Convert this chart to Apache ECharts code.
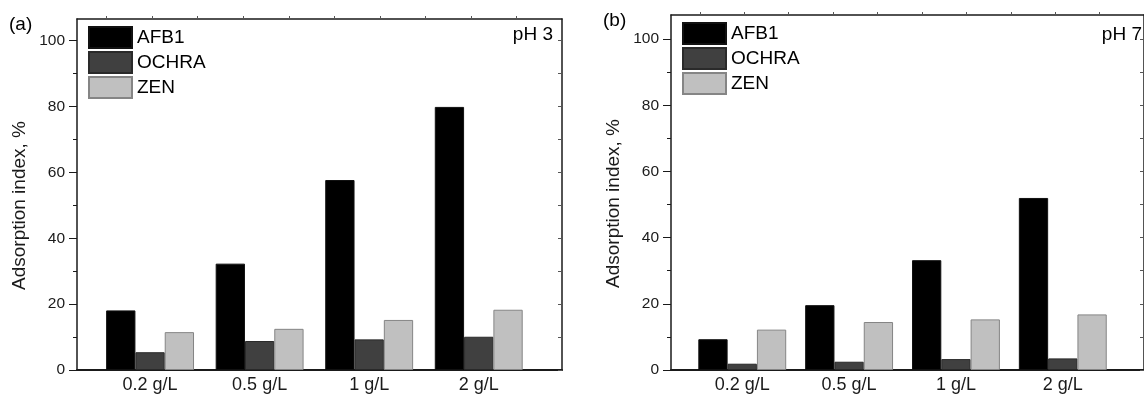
<!DOCTYPE html>
<html>
<head>
<meta charset="utf-8">
<script src="https://cdn.jsdelivr.net/npm/echarts@6/dist/echarts.min.js"></script>
<style>
  html, body { margin: 0; padding: 0; background: #fff; }
  #chart { width: 1144px; height: 394px; }
</style>
</head>
<body>
<div id="chart"></div>
<script>
// data
const categories = ['0.2 g/L', '0.5 g/L', '1 g/L', '2 g/L']
const seriesNames = ['AFB1', 'OCHRA', 'ZEN']
const afb1Ph3 = [18.1, 32.3, 57.7, 79.9]
const ochraPh3 = [5.4, 8.8, 9.3, 10.1]
const zenPh3 = [11.5, 12.5, 15.2, 18.3]
const afb1Ph7 = [9.3, 19.6, 33.2, 52.0]
const ochraPh7 = [1.9, 2.5, 3.3, 3.5]
const zenPh7 = [12.2, 14.5, 15.3, 16.8]
const yMajorTicks = [0, 20, 40, 60, 80, 100]
const yMinorTicks = [10, 30, 50, 70, 90]
const yAllTicks = [0, 10, 20, 30, 40, 50, 60, 70, 80, 90, 100]
const topTicks = [1, 2, 3, 4, 5, 6, 7, 8, 9, 10]

const FONT = '"Liberation Sans", Arial, sans-serif'
const INK = '#1a1a1a'
const colors = ['#000000', '#404040', '#c0c0c0']
const borders = ['#111111', '#2a2a2a', '#858585']

const xPos = categories.map((c, i) => i + 1)

let chart = echarts.init(document.getElementById('chart'), null, { renderer: 'canvas' })

function panelAxes(gridIndex, yMax) {
  let xAxes = [
    {
      gridIndex: gridIndex,
      type: 'value',
      position: 'bottom',
      min: 0.333,
      max: 4.76,
      axisLine: { show: true, onZero: false, lineStyle: { color: INK, width: 2 } },
      axisTick: { show: false },
      splitLine: { show: false },
      axisLabel: {
        customValues: xPos,
        margin: 6,
        color: INK,
        fontSize: 18,
        fontFamily: FONT,
        formatter: (v) => categories[Math.round(v) - 1] || ''
      }
    },
    {
      gridIndex: gridIndex,
      type: 'value',
      position: 'top',
      min: 0.35,
      max: 11,
      axisLine: { show: true, onZero: false, lineStyle: { color: INK, width: 1.5 } },
      axisTick: { show: true, customValues: topTicks, length: 3, lineStyle: { color: '#555' } },
      axisLabel: { show: false },
      splitLine: { show: false }
    }
  ]
  let yAxes = [
    {
      gridIndex: gridIndex,
      type: 'value',
      position: 'left',
      min: 0,
      max: yMax,
      name: 'Adsorption index, %',
      nameLocation: 'middle',
      nameGap: 48,
      nameTextStyle: { color: INK, fontSize: 19, fontFamily: FONT, padding: [0, 22, 0, 0] },
      axisLine: { show: true, onZero: false, lineStyle: { color: INK, width: 1.5 } },
      axisTick: { show: true, customValues: yMajorTicks, length: 8, lineStyle: { color: INK } },
      axisLabel: { customValues: yMajorTicks, margin: 12, color: INK, fontSize: 15.5, fontFamily: FONT },
      splitLine: { show: false }
    },
    {
      gridIndex: gridIndex,
      type: 'value',
      position: 'left',
      min: 0,
      max: yMax,
      axisLine: { show: false, onZero: false },
      axisTick: { show: true, customValues: yMinorTicks, length: 4, lineStyle: { color: INK } },
      axisLabel: { show: false },
      splitLine: { show: false }
    },
    {
      gridIndex: gridIndex,
      type: 'value',
      position: 'right',
      min: 0,
      max: yMax,
      axisLine: { show: true, onZero: false, lineStyle: { color: INK, width: 1.5 } },
      axisTick: { show: true, inside: true, customValues: yAllTicks, length: 4, lineStyle: { color: '#555' } },
      axisLabel: { show: false },
      splitLine: { show: false }
    }
  ]
  return { xAxes, yAxes }
}

function barSeries(gridIndex, values) {
  return values.map((vals, k) => ({
    name: seriesNames[k],
    type: 'bar',
    xAxisIndex: gridIndex * 2,
    yAxisIndex: gridIndex * 3,
    barWidth: 29.3,
    barGap: '0%',
    data: vals.map((v, i) => [xPos[i], v]),
    itemStyle: { color: colors[k], borderColor: borders[k], borderWidth: 1 },
    emphasis: { disabled: true },
    animation: false
  }))
}

let pa = panelAxes(0, 106.6)
let pb = panelAxes(1, 107.3)

let legendBase = {
  orient: 'vertical',
  icon: 'rect',
  padding: 0,
  itemWidth: 43,
  itemHeight: 21,
  itemGap: 2,
  selectedMode: false,
  data: seriesNames,
  textStyle: { color: '#000', fontSize: 19, fontFamily: FONT, padding: [0, 0, 0, 0] }
}

let labelStyle = { fontSize: 19, fontWeight: 'normal', color: '#000', fontFamily: FONT }

let option = {
  animation: false,
  textStyle: { fontFamily: FONT },
  grid: [
    { left: 77, top: 19, width: 485, height: 352 },
    { left: 671, top: 15, width: 484.5, height: 358.3 }
  ],
  title: [
    { text: '(a)', left: 9, top: 15, padding: 0, textStyle: labelStyle },
    { text: '(b)', left: 603, top: 11, padding: 0, textStyle: labelStyle },
    { text: 'pH 3', right: 591, top: 25, padding: 0, textStyle: labelStyle },
    { text: 'pH 7', right: 2, top: 25, padding: 0, textStyle: labelStyle }
  ],
  legend: [
    Object.assign({}, legendBase, { left: 88, top: 26 }),
    Object.assign({}, legendBase, { left: 682, top: 22 })
  ],
  xAxis: pa.xAxes.concat(pb.xAxes),
  yAxis: pa.yAxes.concat(pb.yAxes),
  series: barSeries(0, [afb1Ph3, ochraPh3, zenPh3]).concat(barSeries(1, [afb1Ph7, ochraPh7, zenPh7]))
}

chart.setOption(option)
</script>
</body>
</html>
